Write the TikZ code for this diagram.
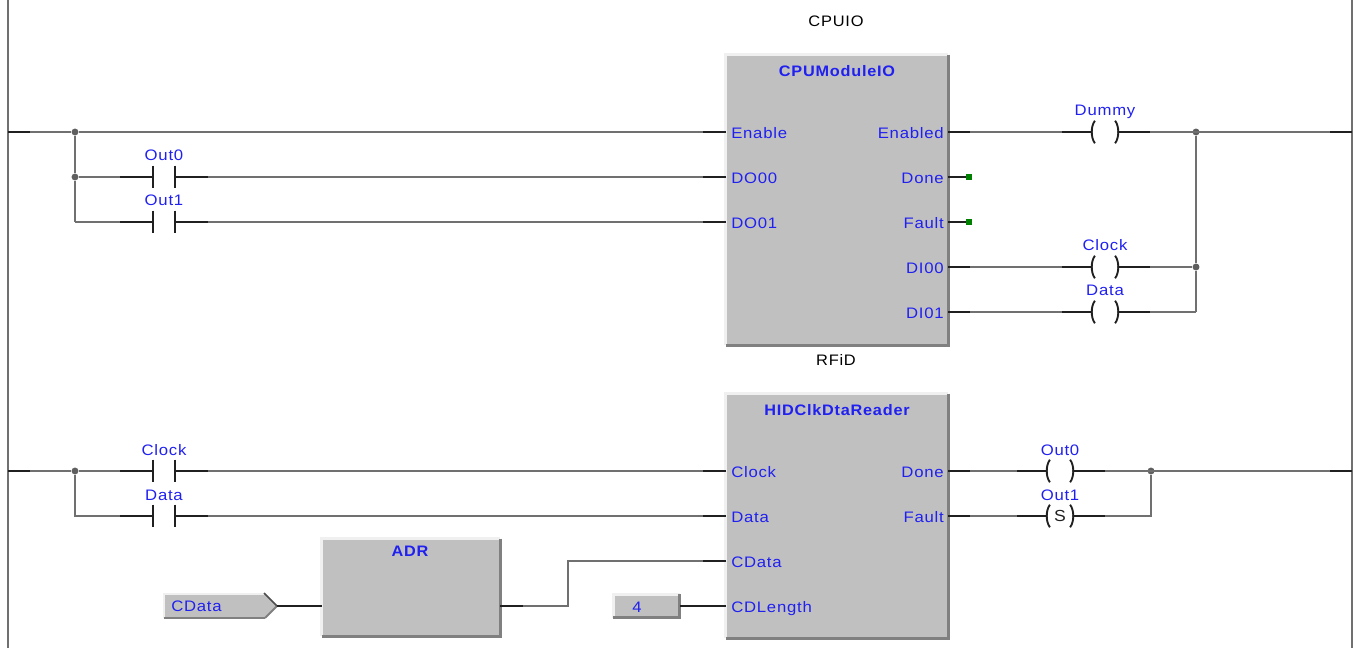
\documentclass[tikz,border=0pt]{standalone}
\usepackage{fontspec}
\setmainfont{Liberation Sans}[FakeStretch=1.10,LetterSpace=5,BoldFeatures={FakeStretch=1.07}]
\newfontfamily\instfont{Liberation Sans}[FakeStretch=1.08,LetterSpace=5]
\definecolor{wiregray}{HTML}{707070}
\definecolor{stubblack}{HTML}{202020}
\definecolor{fbgray}{HTML}{C0C0C0}
\definecolor{fbshadow}{HTML}{808080}
\definecolor{hilite}{HTML}{F0F0F0}
\definecolor{pinblue}{HTML}{2020F0}
\definecolor{dotgreen}{HTML}{008000}
\newcommand{\pxfont}{\fontsize{11.4pt}{13pt}\selectfont}
\tikzset{
  wire/.style={draw=wiregray,line width=1.4pt},
  stub/.style={draw=stubblack,line width=1.4pt},
  rail/.style={draw=wiregray,line width=1.4pt},
  lbl/.style={inner sep=0pt,font=\pxfont,text=pinblue},
  pinl/.style={lbl,anchor=base west},
  pinr/.style={lbl,anchor=base east},
  varl/.style={lbl,anchor=base},
  title/.style={inner sep=0pt,anchor=base,font=\pxfont\bfseries,text=pinblue},
  inst/.style={inner sep=0pt,anchor=base,font=\instfont\pxfont,text=black},
  fb/.style={fill=fbgray,inner sep=0pt,minimum width=#1},
  devbox/.style={inner sep=0pt,minimum width=#1,minimum height=16.5pt},
  dot/.style={circle,fill=wiregray!85!black,inner sep=0pt,minimum size=5.2pt},
  openend/.style={fill=dotgreen,inner sep=0pt,minimum size=4pt},
}
\newcommand{\fbedges}[1]{%
  \draw[hilite,line width=2pt] (#1.south west) -- (#1.north west) -- (#1.north east);
  \draw[fbshadow,line width=2pt] (#1.north east) -- (#1.south east) -- (#1.south west);
}
\newcommand{\contact}[4]{% name, x, y, label
  \node[devbox=16.5pt] (#1) at (#2,#3) {};
  \draw[stub] (#1.north west) -- (#1.south west);
  \draw[stub] (#1.north east) -- (#1.south east);
  \draw[stub] (#1.west) -- ++(-33,0);
  \draw[stub] (#1.east) -- ++(33,0);
  \node[varl] (#1-l) at (#2,#3-16) {#4};
}
\newcommand{\coil}[5]{% name, x, y, label, inner
  \node[devbox=19.5pt,font=\fontsize{12pt}{14pt}\selectfont,text=stubblack] (#1) at (#2,#3) {#5};
  \draw[stub] ([xshift=2.4pt]#1.north west) .. controls ([xshift=-0.8pt,yshift=4.5pt]#1.west) and ([xshift=-0.8pt,yshift=-4.5pt]#1.west) .. ([xshift=2.4pt]#1.south west);
  \draw[stub] ([xshift=-2.4pt]#1.north east) .. controls ([xshift=0.8pt,yshift=4.5pt]#1.east) and ([xshift=0.8pt,yshift=-4.5pt]#1.east) .. ([xshift=-2.4pt]#1.south east);
  \draw[stub] (#1.west) -- ++(-30,0);
  \draw[stub] (#1.east) -- ++(32,0);
  \node[varl] (#1-l) at (#2,#3-16) {#4};
}
\begin{document}
\begin{tikzpicture}[x=0.75pt,y=-0.75pt]
\useasboundingbox (0,0) rectangle (1356,648);
% rails
\coordinate (lt) at (8,0); \coordinate (lb) at (8,648);
\coordinate (rt) at (1352,0); \coordinate (rb) at (1352,648);
\draw[rail] (lt) -- (lb);
\draw[rail] (rt) -- (rb);
\coordinate (l1) at (8,132); \coordinate (r1) at (1352,132);
\coordinate (l2) at (8,471); \coordinate (r2) at (1352,471);
% function blocks
\node[fb=166.5pt,minimum height=217.5pt] (cpu) at (837,200) {};
\fbedges{cpu}
\node[fb=166.5pt,minimum height=183pt] (rfid) at (837,516) {};
\fbedges{rfid}
\node[fb=133.5pt,minimum height=72.75pt] (adr) at (411,587.5) {};
\fbedges{adr}
\node[inst] (cpui) at (836,27) {CPUIO};
\node[title] (cput) at (837,77) {CPUModuleIO};
\node[inst] (rfi) at (836,366) {RFiD};
\node[title] (rft) at (837,416) {HIDClkDtaReader};
\node[title] (adt) at (410,556) {ADR};
% pins
\foreach \n/\y/\t in {en/132/Enable,d0/177/DO00,d1/222/DO01}
  {\coordinate (cpu-\n) at (726,\y); \node[pinl] (cpu-\n-t) at (731,\y+6.5) {\t};}
\foreach \n/\y/\t in {eo/132/Enabled,dn/177/Done,fl/222/Fault,i0/267/DI00,i1/312/DI01}
  {\coordinate (cpu-\n) at (948,\y); \node[pinr] (cpu-\n-t) at (944,\y+6.5) {\t};}
\foreach \n/\y/\t in {ck/471/Clock,da/516/Data,cd/561/CData,cl/606/CDLength}
  {\coordinate (rf-\n) at (726,\y); \node[pinl] (rf-\n-t) at (731,\y+6.5) {\t};}
\foreach \n/\y/\t in {dn/471/Done,fl/516/Fault}
  {\coordinate (rf-\n) at (948,\y); \node[pinr] (rf-\n-t) at (944,\y+6.5) {\t};}
% junctions
\node[dot] (j1) at (75,132) {};
\node[dot] (j2) at (75,177) {};
\coordinate (k1) at (75,222);
\node[dot] (j3) at (1196,132) {};
\node[dot] (j4) at (1196,267) {};
\coordinate (k2) at (1196,312);
\node[dot] (j5) at (75,471) {};
\coordinate (k3) at (75,516);
\node[dot] (j6) at (1151,471) {};
\coordinate (k4) at (1151,516);
% gray wires
\draw[wire] (l1) -- (j1) -- (cpu-en);
\draw[wire] (j1) -- (j2) -- (k1);
\draw[wire] (cpu-eo) -- (r1);
\draw[wire] (j3) -- (j4) -- (k2);
\draw[wire] (cpu-i0) -- (j4);
\draw[wire] (cpu-i1) -- (k2);
\draw[wire] (j2) -- (cpu-d0);
\draw[wire] (k1) -- (cpu-d1);
\draw[wire] (l2) -- (j5) -- (rf-ck);
\draw[wire] (j5) -- (k3) -- (rf-da);
\draw[wire] (rf-dn) -- (r2);
\draw[wire] (rf-fl) -- (k4) -- (j6);
% white gap behind devices
\foreach \x/\y in {164/177,164/222,164/471,164/516}
  \fill[white] (\x-10,\y-2) rectangle (\x+10,\y+2);
\foreach \x/\y in {1105/132,1105/267,1105/312,1060/471,1060/516}
  \fill[white] (\x-12,\y-2) rectangle (\x+12,\y+2);
% contacts and coils
\contact{c1}{164}{177}{Out0}
\contact{c2}{164}{222}{Out1}
\contact{c3}{164}{471}{Clock}
\contact{c4}{164}{516}{Data}
\coil{q1}{1105}{132}{Dummy}{}
\coil{q2}{1105}{267}{Clock}{}
\coil{q3}{1105}{312}{Data}{}
\coil{q4}{1060}{471}{Out0}{}
\coil{q5}{1060}{516}{Out1}{S}
% dark stubs at pins and rails
\draw[stub] (l1) -- ++(22,0);
\draw[stub] (l2) -- ++(22,0);
\draw[stub] (r1) -- ++(-22,0);
\draw[stub] (r2) -- ++(-22,0);
\foreach \p in {cpu-en,cpu-d0,cpu-d1,rf-ck,rf-da,rf-cd,rf-cl}
  \draw[stub] (\p) -- ++(-23,0);
\foreach \p in {cpu-eo,cpu-i0,cpu-i1,rf-dn,rf-fl}
  \draw[stub] (\p) -- ++(22,0);
% open outputs
\node[openend] (o1) at (969,177) {};
\node[openend] (o2) at (969,222) {};
\draw[stub] (cpu-dn) -- (o1);
\draw[stub] (cpu-fl) -- (o2);
% ADR input tag
\coordinate (tg) at (277,606);
\fill[fbgray] (164,594) -- (265,594) -- (tg) -- (265,618) -- (164,618) -- cycle;
\draw[hilite,line width=1.5pt] (164,618) -- (164,594) -- (264,594);
\draw[fbshadow,line width=1.5pt] (164,618) -- (265,618);
\draw[fbshadow,line width=1.5pt] (265,618) -- (tg);
\draw[stubblack!80,line width=1.3pt] (264,593) -- (tg);
\node[pinl] (tgt) at (171,611.5) {CData};
\coordinate (adr-i) at (322,606);
\coordinate (adr-o) at (500,606);
\coordinate (bend1) at (568,606);
\coordinate (bend2) at (568,561);
\draw[stub] (tg) -- (adr-i);
\draw[wire] (adr-o) -- (bend1) -- (bend2) -- (rf-cd);
\draw[stub] (adr-o) -- ++(23,0);
\draw[stub] (rf-cd) -- ++(-23,0);
% constant
\node[fb=49.5pt,minimum height=17.25pt] (k) at (646.5,606) {};
\fbedges{k}
\node[varl] (kt) at (637,612) {4};
\draw[stub] (k.east) -- (rf-cl);
\end{tikzpicture}
\end{document}
